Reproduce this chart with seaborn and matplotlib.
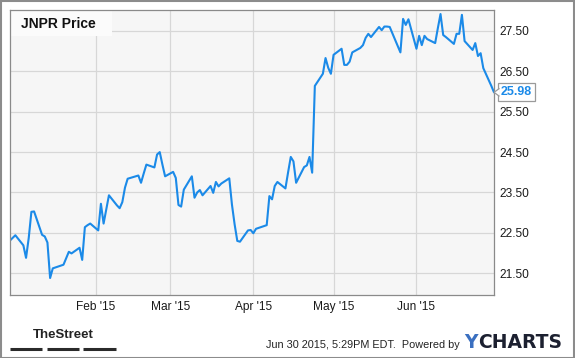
import matplotlib
matplotlib.use("Agg")
import matplotlib.pyplot as plt
import matplotlib.dates as mdates
from matplotlib.patches import Rectangle, Polygon
from matplotlib.lines import Line2D
import seaborn as sns
import pandas as pd

# ---------------- data ----------------
title = "JNPR Price"
holidays = ["2015-01-01", "2015-01-19", "2015-02-16", "2015-04-03", "2015-05-25"]
start_date = "2014-12-31"
end_date = "2015-06-30"
prices = [
    22.31,
    22.44, 22.19, 21.88, 22.37, 23.02, 23.03, 22.45, 22.41, 22.26, 21.38, 21.62,
    21.71, 21.87, 22.03, 21.99, 22.13, 21.83, 22.64, 22.69, 22.73,
    22.56, 23.22, 22.73, 23.08, 23.43, 23.18, 23.11, 23.26, 23.62, 23.84,
    23.92, 23.74, 23.97, 24.19, 24.12, 24.44, 24.50, 24.19, 23.90,
    24.01, 23.86, 23.19, 23.15, 23.57, 23.90, 23.37, 23.50, 23.56, 23.43,
    23.66, 23.49, 23.76, 23.65, 23.72, 23.85, 23.20, 22.71, 22.30, 22.28,
    22.56, 22.57,
    22.49, 22.60, 22.69, 23.41, 23.33, 23.66, 23.76, 23.60, 24.00, 24.38,
    24.27, 23.74, 24.13, 24.17, 24.38, 23.99, 26.14, 26.44, 26.83, 26.59, 26.44,
    26.91, 27.06, 26.66, 26.66, 26.74, 26.97, 27.08, 27.15, 27.33, 27.43,
    27.35, 27.60, 27.52, 27.61, 27.61, 27.60, 26.97, 27.80, 27.65, 27.79,
    27.06, 27.38, 27.15, 27.38, 27.30, 27.20, 27.57, 27.92, 27.40, 27.35,
    27.18, 27.43, 27.43, 27.90, 27.25, 27.03, 27.20, 26.88, 26.95, 26.58,
    26.14, 25.98,
]
y_ticks = [21.5, 22.5, 23.5, 24.5, 25.5, 26.5, 27.5]
x_ticks = ["2015-02-01", "2015-03-01", "2015-04-01", "2015-05-01", "2015-06-01"]
stamp = "Jun 30 2015, 5:29PM EDT.  Powered by"

dates = pd.bdate_range(start_date, end_date, freq="C", holidays=holidays)
df = pd.DataFrame({"date": dates, "price": prices})

# ---------------- figure ----------------
W, H = 575, 358
sns.set_style("white")
plt.rcParams["font.family"] = ["Liberation Sans", "DejaVu Sans"]

fig = plt.figure(figsize=(W / 100, H / 100), dpi=100)
fig.patch.set_facecolor("white")

def fx(px):
    return px / W

def fy(py):
    return 1 - py / H

ax = fig.add_axes([fx(10), fy(295), fx(494) - fx(10), fy(10) - fy(295)])
ax.set_facecolor("#f6f6f6")

line_color = "#1b8ae8"
sns.lineplot(data=df, x="date", y="price", ax=ax, color=line_color, linewidth=1.5)

ax.set_xlim(pd.Timestamp(start_date), pd.Timestamp(end_date))
ax.set_ylim(20.96, 28.02)
ax.set_yticks(y_ticks)
ax.set_yticklabels([f"{v:.2f}" for v in y_ticks])
ax.yaxis.tick_right()
ax.set_xticks(pd.to_datetime(x_ticks))
ax.xaxis.set_major_formatter(mdates.DateFormatter("%b '%y"))
ax.tick_params(axis="both", length=0, labelsize=8.6, colors="#1a1a1a")
ax.tick_params(axis="y", pad=3.6)
ax.tick_params(axis="x", pad=4.5)
ax.set_xlabel("")
ax.set_ylabel("")
ax.grid(True, color="#d7d7d7", linewidth=0.9)
ax.set_axisbelow(True)
for s in ax.spines.values():
    s.set_color("#8a8a8a")
    s.set_linewidth(0.9)

# title box
ax.add_patch(Rectangle((0, 0.909), 0.211, 0.091, transform=ax.transAxes,
                       facecolor="#fbfbfb", edgecolor="none", zorder=1))
ax.text(0.0227, 0.951, title, transform=ax.transAxes, fontsize=10,
        fontweight="bold", color="#111111", va="center", ha="left", zorder=3)

# last value label
fig.canvas.draw()
last_x = mdates.date2num(df["date"].iloc[-1])
last_y = df["price"].iloc[-1]
ax.annotate(f"{last_y:.2f}", xy=(last_x, last_y), xycoords="data",
            xytext=(7, 0), textcoords="offset pixels", ha="left", va="center",
            fontsize=9, fontweight="bold", color=line_color,
            bbox=dict(boxstyle="square,pad=0.25", facecolor="white",
                      edgecolor="#9a9a9a", linewidth=0.9),
            annotation_clip=False, zorder=5)
px, py = ax.transData.transform((last_x, last_y))
tri = Polygon([(px + 5.5, py + 4), (px, py), (px + 5.5, py - 4)], closed=False,
              transform=None, facecolor="white", edgecolor="#9a9a9a",
              linewidth=0.9, zorder=6, clip_on=False)
fig.add_artist(tri)

# footer
fig.text(fx(63.5), fy(335), "TheStreet", fontsize=9.5, fontweight="bold",
         family=["Liberation Sans Narrow", "Liberation Sans", "DejaVu Sans"],
         color="#222222", ha="center", va="center")
for x0, x1 in [(10, 42), (47, 79), (83, 116)]:
    fig.add_artist(Line2D([fx(x0), fx(x1)], [fy(349), fy(349)],
                          color="#2a2a2a", linewidth=2.2,
                          transform=fig.transFigure, solid_capstyle="butt"))
fig.text(fx(460), fy(347.5), stamp, fontsize=7.8, color="#222222",
         ha="right", va="baseline")
ty = fig.text(fx(464), fy(347.5), "Y", fontsize=13.5, fontweight="bold",
              family=["DejaVu Sans"], color="#3a6fc0", ha="left", va="baseline")
fig.canvas.draw()
y_right = ty.get_window_extent().x1
fig.text(fx(y_right + 1), fy(347.5), "CHARTS", fontsize=13.5, fontweight="bold",
         family=["DejaVu Sans"], color="#1c2030", ha="left", va="baseline")

# outer border
fig.add_artist(Rectangle((0.5 / W, 0.5 / H), 1 - 1.5 / W, 1 - 1.5 / H,
                         transform=fig.transFigure, fill=False,
                         edgecolor="#8c8c8c", linewidth=1.5))

fig.savefig("out.png", dpi=100)
